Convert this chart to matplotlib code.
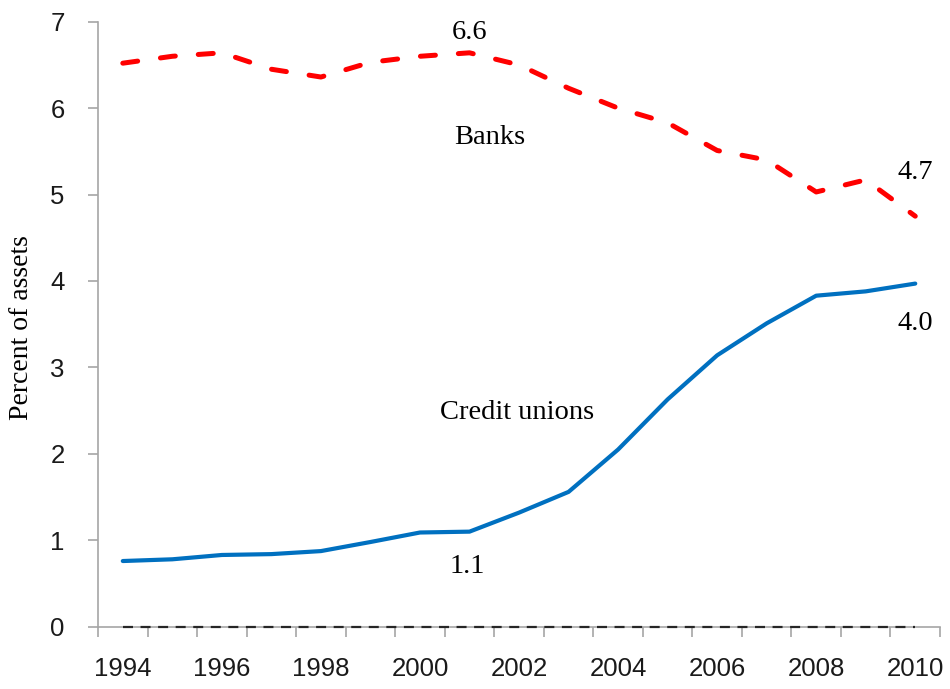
import matplotlib
matplotlib.use("Agg")
import matplotlib.pyplot as plt
import numpy as np

years = list(range(1994, 2011))
banks = [6.52, 6.60, 6.64, 6.45, 6.36, 6.53, 6.60, 6.64, 6.50, 6.23, 6.00, 5.83, 5.51, 5.40, 5.03, 5.17, 4.75]
credit_unions = [0.76, 0.78, 0.83, 0.84, 0.875, 0.98, 1.09, 1.10, 1.32, 1.56, 2.05, 2.63, 3.14, 3.51, 3.83, 3.88, 3.97]
zero_line = [0.0] * len(years)
tick_labels = [str(y) if (y - 1994) % 2 == 0 else "" for y in years]

fig = plt.figure(figsize=(9.5, 6.89), dpi=100)
ax = fig.add_axes([0.1032, 0.0904, 0.8863, 0.8781])

x = np.arange(len(years))
ax.plot(x, zero_line, color="#262626", lw=1.6, dashes=(4.5, 3.4), zorder=3, clip_on=False)
ax.plot(x, banks, color="#FF0000", lw=3.6, dashes=(3, 4.6), dash_capstyle="round", zorder=4)
ax.plot(x, credit_unions, color="#0070C0", lw=3.0, solid_capstyle="round", zorder=4)

ax.set_xlim(-0.5, len(years) - 0.5)
ax.set_ylim(0, 7)
ax.set_yticks(range(0, 8))

ax.set_xticks(np.arange(-0.5, len(years), 1.0))
ax.set_xticklabels([])
ax.set_xticks(x, minor=True)
ax.set_xticklabels(tick_labels, minor=True)
ax.tick_params(axis="x", which="minor", length=0, pad=22)
ax.tick_params(axis="x", which="major", length=7, color="#A6A6A6", width=1.2, direction="out")
ax.tick_params(axis="y", length=7, color="#A6A6A6", width=1.2, pad=17, direction="out")

for lbl in ax.get_xticklabels(minor=True) + ax.get_yticklabels():
    lbl.set_fontfamily("Liberation Sans")
    lbl.set_fontsize(18.5)
    lbl.set_color("#1a1a1a")

for side in ["top", "right"]:
    ax.spines[side].set_visible(False)
for side in ["left", "bottom"]:
    ax.spines[side].set_color("#A6A6A6")
    ax.spines[side].set_linewidth(1.2)

serif = "Liberation Serif"
fs = 20.5
ax.set_ylabel("Percent of assets", fontfamily=serif, fontsize=20)
ax.yaxis.set_label_coords(-0.076, 0.494)

ax.text(7, 6.88, "6.6", fontfamily=serif, fontsize=fs, ha="center", va="center")
ax.text(7.4, 5.66, "Banks", fontfamily=serif, fontsize=fs, ha="center", va="center")
ax.text(16, 5.26, "4.7", fontfamily=serif, fontsize=fs, ha="center", va="center")
ax.text(16, 3.51, "4.0", fontfamily=serif, fontsize=fs, ha="center", va="center")
ax.text(7.96, 2.48, "Credit unions", fontfamily=serif, fontsize=fs, ha="center", va="center")
ax.text(6.95, 0.70, "1.1", fontfamily=serif, fontsize=fs, ha="center", va="center")

fig.savefig("out.png", dpi=100)
